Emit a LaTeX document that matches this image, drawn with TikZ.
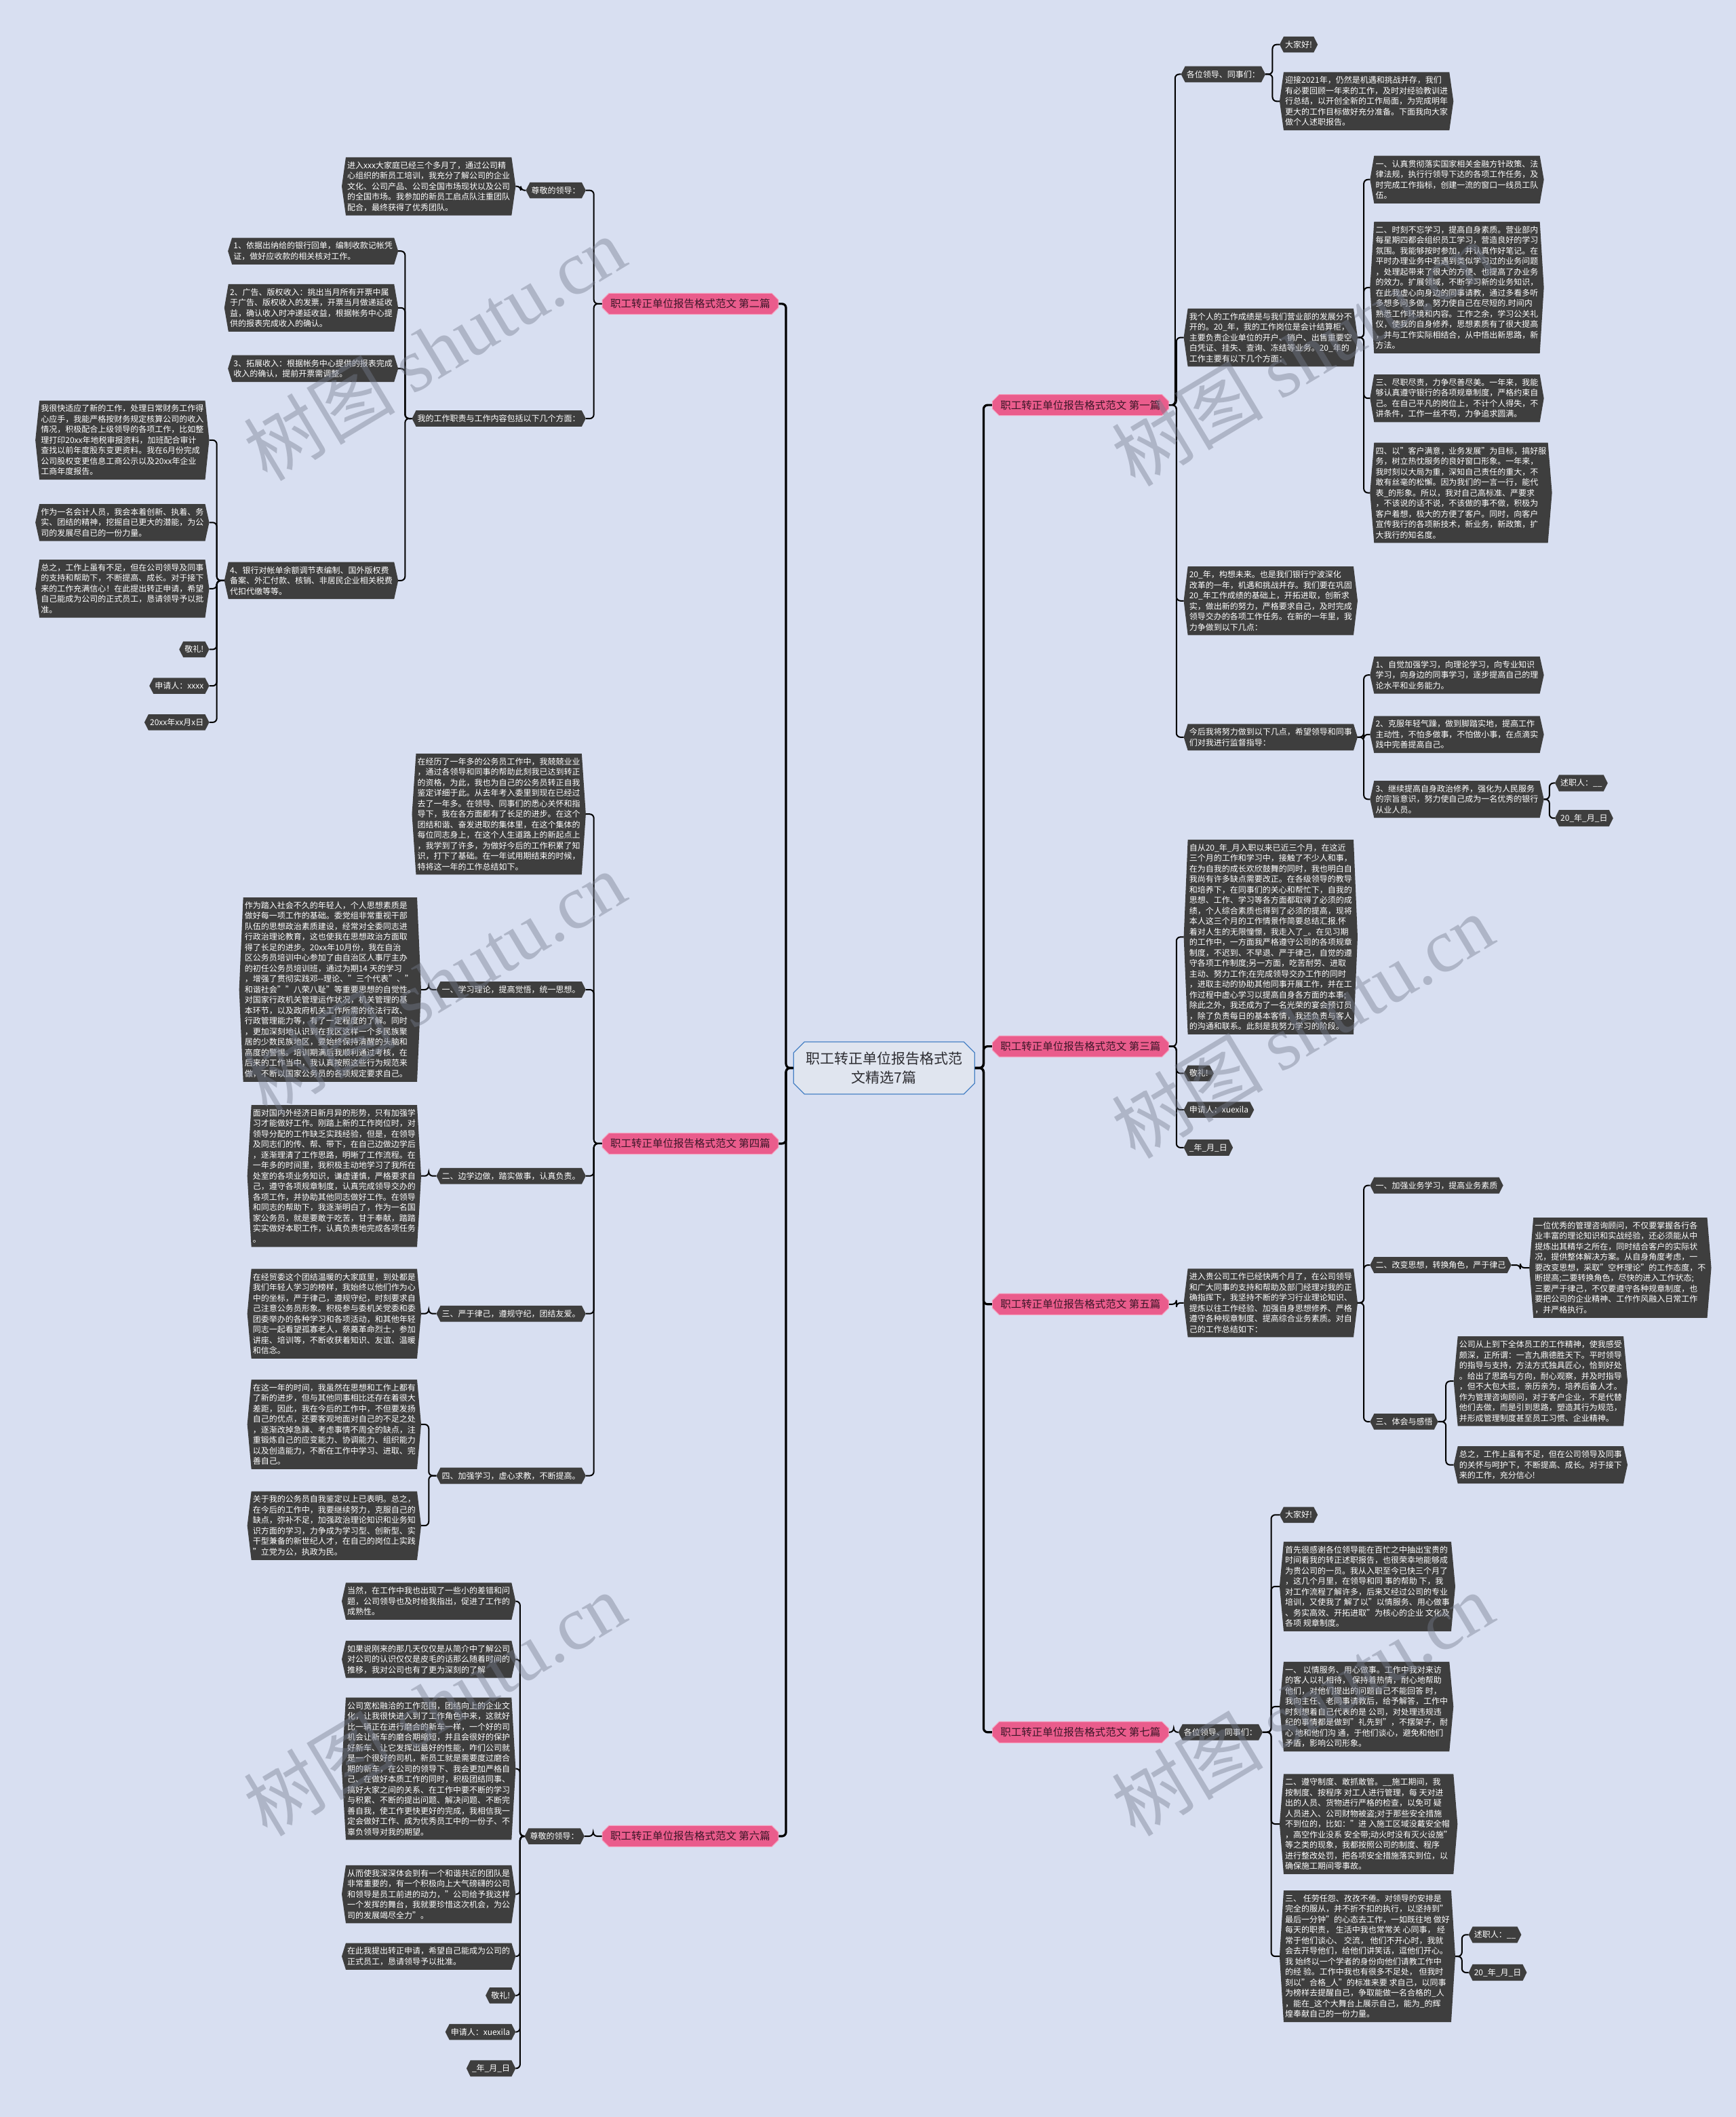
\documentclass[tikz,border=0pt]{standalone}
\usepackage{fontspec}
\setmainfont{Noto Sans CJK SC}
\newfontfamily\wmfont{Liberation Serif}
\usetikzlibrary{shapes.misc,calc}
\definecolor{bgc}{RGB}{216,223,241}
\definecolor{boxc}{RGB}{62,62,62}
\definecolor{pinkc}{RGB}{234,92,140}
\definecolor{pinkb}{RGB}{246,160,190}
\definecolor{pinkt}{RGB}{60,22,40}
\definecolor{centc}{RGB}{224,229,239}
\definecolor{centb}{RGB}{70,128,196}
\definecolor{wmc}{RGB}{118,124,142}
\pgfdeclarelayer{bgl}
\pgfdeclarelayer{hexl}
\pgfsetlayers{bgl,hexl,main}
\tikzset{
  tx/.style={inner xsep=8pt, inner ysep=6pt, text=white, align=left,
    font=\fontsize{12}{15.5}\selectfont},
  branch/.style={chamfered rectangle, chamfered rectangle xsep=5pt,
    chamfered rectangle ysep=5pt, fill=pinkc, draw=pinkb, line width=1pt,
    text=pinkt, font=\fontsize{15.5}{18}\selectfont, inner xsep=7pt,
    minimum height=28pt},
  titlebox/.style={chamfered rectangle, chamfered rectangle xsep=8pt,
    chamfered rectangle ysep=8pt, fill=centc, draw=centb, line width=1.2pt,
    text={rgb,255:red,45;green,45;blue,50}, align=center,
    font=\fontsize{21}{28}\selectfont, minimum width=267pt, minimum height=77pt},
  conn/.style={draw=black, line width=2pt, rounded corners=6pt},
  trunk/.style={conn, line width=3.2pt},
  wm/.style={rotate=31, text=wmc, opacity=0.42, font=\fontsize{112}{120}\selectfont}
}
\newcommand\lk[3][conn]{%
  \coordinate (tA) at (#2); \coordinate (tB) at (#3);
  \coordinate (tM) at ($(tA)!0.5!(tB)$);
  \draw[#1] (tA) -- (tM |- tA) -- (tM |- tB) -- (tB);}
\newcommand\hexall[1]{%
  \begin{pgfonlayer}{hexl}
  \foreach \n in {#1} {%
    \fill[boxc] ($(\n.north west)+(6pt,0)$) -- ($(\n.north east)+(-6pt,0)$) -- (\n.east)
      -- ($(\n.south east)+(-6pt,0)$) -- ($(\n.south west)+(6pt,0)$) -- (\n.west) -- cycle;}
  \end{pgfonlayer}}
\begin{document}
\begin{tikzpicture}[x=1.9907pt,y=-1.9907pt]
\begin{pgfonlayer}{bgl}
\fill[bgc] (0,0) rectangle (1286,1568);
\end{pgfonlayer}
\useasboundingbox (0,0) rectangle (1286,1568);

% center and branches
\node[titlebox] (C) at (655,791) {职工转正单位报告格式范\\文精选7篇};
\node[branch,anchor=west] (P1) at (735,300) {职工转正单位报告格式范文 第一篇};
\node[branch,anchor=west] (P3) at (735,775) {职工转正单位报告格式范文 第三篇};
\node[branch,anchor=west] (P5) at (735,966) {职工转正单位报告格式范文 第五篇};
\node[branch,anchor=west] (P7) at (735,1283) {职工转正单位报告格式范文 第七篇};
\node[branch,anchor=east] (P2) at (577,225) {职工转正单位报告格式范文 第二篇};
\node[branch,anchor=east] (P4) at (577,847) {职工转正单位报告格式范文 第四篇};
\node[branch,anchor=east] (P6) at (577,1360) {职工转正单位报告格式范文 第六篇};

% section 1
\node[tx,anchor=west] (A1) at (875,55) {各位领导、同事们：};
\node[tx,anchor=west] (A1a) at (948,33) {大家好!};
\node[tx,anchor=west] (A1b) at (948,75) {迎接2021年，仍然是机遇和挑战并存，我们\\有必要回顾一年来的工作，及时对经验教训进\\行总结，以开创全新的工作局面，为完成明年\\更大的工作目标做好充分准备。下面我向大家\\做个人述职报告。};
\node[tx,anchor=west] (A2) at (877,250) {我个人的工作成绩是与我们营业部的发展分不\\开的。20\_年，我的工作岗位是会计结算柜，\\主要负责企业单位的开户、销户、出售重要空\\白凭证、挂失、查询、冻结等业务。20\_年的\\工作主要有以下几个方面：};
\node[tx,anchor=west] (A2a) at (1015,133) {一、认真贯彻落实国家相关金融方针政策、法\\律法规，执行行领导下达的各项工作任务，及\\时完成工作指标，创建一流的窗口一线员工队\\伍。};
\node[tx,anchor=west] (A2b) at (1015,213) {二、时刻不忘学习，提高自身素质。营业部内\\每星期四都会组织员工学习，营造良好的学习\\氛围。我能够按时参加，并认真作好笔记。在\\平时办理业务中若遇到类似学习过的业务问题\\，处理起带来了很大的方便、也提高了办业务\\的效力。扩展领域，不断学习新的业务知识，\\在此我虚心向身边的同事请教，通过多看多听\\多想多问多做，努力使自己在尽短的.时间内\\熟悉工作环境和内容。工作之余，学习公关礼\\仪，使我的自身修养，思想素质有了很大提高\\，并与工作实际相结合，从中悟出新思路，新\\方法。};
\node[tx,anchor=west] (A2c) at (1015,295) {三、尽职尽责，力争尽善尽美。一年来，我能\\够认真遵守银行的各项规章制度，严格约束自\\己。在自己平凡的岗位上，不计个人得失，不\\讲条件，工作一丝不苟，力争追求圆满。};
\node[tx,anchor=west] (A2d) at (1015,365) {四、以"客户满意，业务发展"为目标，搞好服\\务，树立热忱服务的良好窗口形象。一年来，\\我时刻以大局为重，深知自己责任的重大，不\\敢有丝毫的松懈。因为我们的一言一行，能代\\表\_的形象。所以，我对自己高标准、严要求\\，不该说的话不说，不该做的事不做，积极为\\客户着想，极大的方便了客户。同时，向客户\\宣传我行的各项新技术，新业务，新政策，扩\\大我行的知名度。};
\node[tx,anchor=west] (A3) at (877,445) {20\_年，构想未来。也是我们银行宁波深化\\改革的一年，机遇和挑战并存。我们要在巩固\\20\_年工作成绩的基础上，开拓进取，创新求\\实，做出新的努力，严格要求自己，及时完成\\领导交办的各项工作任务。在新的一年里，我\\力争做到以下几点：};
\node[tx,anchor=west] (A4) at (877,546) {今后我将努力做到以下几点，希望领导和同事\\们对我进行监督指导：};
\node[tx,anchor=west] (A4a) at (1015,500) {1、自觉加强学习，向理论学习，向专业知识\\学习，向身边的同事学习，逐步提高自己的理\\论水平和业务能力。};
\node[tx,anchor=west] (A4b) at (1015,544) {2、克服年轻气躁，做到脚踏实地，提高工作\\主动性，不怕多做事，不怕做小事，在点滴实\\践中完善提高自己。};
\node[tx,anchor=west] (A4c) at (1015,592) {3、继续提高自身政治修养，强化为人民服务\\的宗旨意识，努力使自己成为一名优秀的银行\\从业人员。};
\node[tx,anchor=west] (A4c1) at (1152,580) {述职人：\_\_};
\node[tx,anchor=west] (A4c2) at (1152,606) {20\_年\_月\_日};

% section 3
\node[tx,anchor=west] (B1) at (877,694) {自从20\_年\_月入职以来已近三个月，在这近\\三个月的工作和学习中，接触了不少人和事，\\在为自我的成长欢欣鼓舞的同时，我也明白自\\我尚有许多缺点需要改正。在各级领导的教导\\和培养下，在同事们的关心和帮忙下，自我的\\思想、工作、学习等各方面都取得了必须的成\\绩，个人综合素质也得到了必须的提高，现将\\本人这三个月的工作情景作简要总结汇报.怀\\着对人生的无限憧憬，我走入了\_。在见习期\\的工作中，一方面我严格遵守公司的各项规章\\制度，不迟到、不早退、严于律己，自觉的遵\\守各项工作制度;另一方面，吃苦耐劳、进取\\主动、努力工作;在完成领导交办工作的同时\\，进取主动的协助其他同事开展工作，并在工\\作过程中虚心学习以提高自身各方面的本事;\\除此之外，我还成为了一名光荣的宴会预订员\\，除了负责每日的基本客情，我还负责与客人\\的沟通和联系。此刻是我努力学习的阶段。};
\node[tx,anchor=west] (B2) at (877,795) {敬礼!};
\node[tx,anchor=west] (B3) at (877,822) {申请人：xuexila};
\node[tx,anchor=west] (B4) at (877,850) {\_年\_月\_日};

% section 5
\node[tx,anchor=west] (C1) at (877,965) {进入贵公司工作已经快两个月了，在公司领导\\和广大同事的支持和帮助及部门经理对我的正\\确指挥下，我坚持不断的学习行业理论知识、\\提炼以往工作经验、加强自身思想修养、严格\\遵守各种规章制度、提高综合业务素质。对自\\己的工作总结如下：};
\node[tx,anchor=west] (C1a) at (1015,878) {一、加强业务学习，提高业务素质};
\node[tx,anchor=west] (C1b) at (1015,937) {二、改变思想，转换角色，严于律己};
\node[tx,anchor=west] (C1b1) at (1133,939) {一位优秀的管理咨询顾问，不仅要掌握各行各\\业丰富的理论知识和实战经验，还必须能从中\\提炼出其精华之所在，同时结合客户的实际状\\况，提供整体解决方案。从自身角度考虑，一\\要改变思想，采取"空杯理论"的工作态度，不\\断提高;二要转换角色，尽快的进入工作状态;\\三要严于律己，不仅要遵守各种规章制度，也\\要把公司的企业精神、工作作风融入日常工作\\，并严格执行。};
\node[tx,anchor=west] (C1c) at (1015,1053) {三、体会与感悟};
\node[tx,anchor=west] (C1c1) at (1077,1023) {公司从上到下全体员工的工作精神，使我感受\\颇深，正所谓：一言九鼎德胜天下。平时领导\\的指导与支持，方法方式独具匠心，恰到好处\\。给出了思路与方向，耐心观察，并及时指导\\，但不大包大揽，亲历亲为，培养后备人才。\\作为管理咨询顾问，对于客户企业，不是代替\\他们去做，而是引到思路，塑造其行为规范，\\并形成管理制度甚至员工习惯、企业精神。};
\node[tx,anchor=west] (C1c2) at (1077,1085) {总之，工作上虽有不足，但在公司领导及同事\\的关怀与呵护下，不断提高、成长。对于接下\\来的工作，充分信心!};

% section 7
\node[tx,anchor=west] (D1) at (873,1283) {各位领导、同事们：};
\node[tx,anchor=west] (D1a) at (948,1122) {大家好!};
\node[tx,anchor=west] (D1b) at (948,1175) {首先很感谢各位领导能在百忙之中抽出宝贵的\\时间看我的转正述职报告，也很荣幸地能够成\\为贵公司的一员。我从入职至今已快三个月了\\，这几个月里，在领导和同 事的帮助 下，我\\对工作流程了解许多，后来又经过公司的专业\\培训，又使我了 解了以"以情服务、用心做事\\、务实高效、开拓进取"为核心的企业 文化及\\各项 规章制度。};
\node[tx,anchor=west] (D1c) at (948,1264) {一、 以情服务、用心做事。工作中我对来访\\的客人以礼相待， 保持着热情，耐心地帮助\\他们，对他们提出的问题自己不能回答 时，\\我向主任、老同事请教后，给予解答，工作中\\时刻想着自己代表的是 公司，对处理违规违\\纪的事情都是做到"礼先到"，不摆架子，耐\\心 地和他们沟 通，于他们谈心，避免和他们\\矛盾，影响公司形象。};
\node[tx,anchor=west] (D1d) at (948,1351) {二、遵守制度、敢抓敢管。\_\_施工期间，我\\按制度、按程序 对工人进行管理，每 天对进\\出的人员、货物进行严格的检查，以免可 疑\\人员进入、公司财物被盗;对于那些安全措施\\不到位的，比如："进 入施工区域没戴安全帽\\，高空作业没系 安全带;动火时没有灭火设施"\\ 等之类的现象，我都按照公司的制度、程序\\进行整改处罚，把各项安全措施落实到位，以\\确保施工期间零事故。};
\node[tx,anchor=west] (D1e) at (948,1449) {三、 任劳任怨、孜孜不倦。对领导的安排是\\完全的服从，并不折不扣的执行，以坚持到"\\最后一分钟"的心态去工作，一如既往地 做好\\每天的职责， 生活中我也常常关 心同事， 经\\常于他们谈心、 交流， 他们不开心时，我就\\会去开导他们，给他们讲笑话，逗他们开心。\\我 始终以一个学者的身份向他们请教工作中\\的经 验。工作中我也有很多不足处， 但我时\\刻以"合格\_人"的标准来要 求自己，以同事\\为榜样去提醒自己，争取能做一名合格的\_人\\，能在\_这个大舞台上展示自己，能为\_的辉\\煌奉献自己的一份力量。};
\node[tx,anchor=west] (D1e1) at (1088,1433) {述职人：\_\_};
\node[tx,anchor=west] (D1e2) at (1088,1461) {20\_年\_月\_日};

% section 2
\node[tx,anchor=east] (E1) at (434,141) {尊敬的领导：};
\node[tx,anchor=east] (E1a) at (382,138) {进入xxx大家庭已经三个多月了，通过公司精\\心组织的新员工培训，我充分了解公司的企业\\文化、公司产品、公司全国市场现状以及公司\\的全国市场。我参加的新员工启点队注重团队\\配合，最终获得了优秀团队。};
\node[tx,anchor=east] (E2) at (434,310) {我的工作职责与工作内容包括以下几个方面：};
\node[tx,anchor=east] (E2a) at (295,186) {1、依据出纳给的银行回单，编制收款记帐凭\\证，做好应收款的相关核对工作。};
\node[tx,anchor=east] (E2b) at (295,228) {2、广告、版权收入：挑出当月所有开票中属\\于广告、版权收入的发票，开票当月做递延收\\益，确认收入时冲递延收益，根据帐务中心提\\供的报表完成收入的确认。};
\node[tx,anchor=east] (E2c) at (295,273) {3、拓展收入：根据帐务中心提供的报表完成\\收入的确认，提前开票需调整。};
\node[tx,anchor=east] (E2d) at (295,430) {4、银行对帐单余额调节表编制、国外版权费\\备案、外汇付款、核销、非居民企业相关税费\\代扣代缴等等。};
\node[tx,anchor=east] (E2d1) at (155,326) {我很快适应了新的工作，处理日常财务工作得\\心应手，我能严格按财务规定核算公司的收入\\情况，积极配合上级领导的各项工作，比如整\\理打印20xx年地税审报资料，加班配合审计\\查找以前年度股东变更资料。我在6月份完成\\公司股权变更信息工商公示以及20xx年企业\\工商年度报告。};
\node[tx,anchor=east] (E2d2) at (155,387) {作为一名会计人员，我会本着创新、执着、务\\实、团结的精神，挖掘自已更大的潜能，为公\\司的发展尽自已的一份力量。};
\node[tx,anchor=east] (E2d3) at (155,436) {总之，工作上虽有不足，但在公司领导及同事\\的支持和帮助下，不断提高、成长。对于接下\\来的工作充满信心！在此提出转正申请，希望\\自己能成为公司的正式员工，恳请领导予以批\\准。};
\node[tx,anchor=east] (E2d4) at (155,481) {敬礼!};
\node[tx,anchor=east] (E2d5) at (155,508) {申请人：xxxx};
\node[tx,anchor=east] (E2d6) at (155,535) {20xx年xx月x日};

% section 4
\node[tx,anchor=east] (F0) at (434,603) {在经历了一年多的公务员工作中，我兢兢业业\\，通过各领导和同事的帮助此刻我已达到转正\\的资格，为此，我也为自己的公务员转正自我\\鉴定详细于此。从去年考入委里到现在已经过\\去了一年多。在领导、同事们的悉心关怀和指\\导下，我在各方面都有了长足的进步。在这个\\团结和谐、奋发进取的集体里，在这个集体的\\每位同志身上，在这个人生道路上的新起点上\\，我学到了许多，为做好今后的工作积累了知\\识，打下了基础。在一年试用期结束的时候，\\特将这一年的工作总结如下。};
\node[tx,anchor=east] (F1) at (434,733) {一、学习理论，提高觉悟，统一思想。};
\node[tx,anchor=east] (F1a) at (312,733) {作为踏入社会不久的年轻人，个人思想素质是\\做好每一项工作的基础。委党组非常重视干部\\队伍的思想政治素质建设，经常对全委同志进\\行政治理论教育，这也使我在思想政治方面取\\得了长足的进步。20xx年10月份，我在自治\\区公务员培训中心参加了由自治区人事厅主办\\的初任公务员培训班，通过为期14 天的学习\\，增强了贯彻实践邓-{}-理论、"三个代表"、"\\和谐社会""八荣八耻"等重要思想的自觉性。\\对国家行政机关管理运作状况，机关管理的基\\本环节，以及政府机关工作所需的依法行政、\\行政管理能力等，有了一定程度的了解。同时\\，更加深刻地认识到在我区这样一个多民族聚\\居的少数民族地区，要始终保持清醒的头脑和\\高度的警惕。培训期满后我顺利通过考核，在\\后来的工作当中，我认真按照这些行为规范来\\做，不断以国家公务员的各项规定要求自己。};
\node[tx,anchor=east] (F2) at (434,871) {二、边学边做，踏实做事，认真负责。};
\node[tx,anchor=east] (F2a) at (312,871) {面对国内外经济日新月异的形势，只有加强学\\习才能做好工作。刚踏上新的工作岗位时，对\\领导分配的工作缺乏实践经验，但是，在领导\\及同志们的传、帮、带下，在自己边做边学后\\，逐渐理清了工作思路，明晰了工作流程。在\\一年多的时间里，我积极主动地学习了我所在\\处室的各项业务知识，谦虚谨慎，严格要求自\\己，遵守各项规章制度，认真完成领导交办的\\各项工作，并协助其他同志做好工作。在领导\\和同志的帮助下，我逐渐明白了，作为一名国\\家公务员，就是要敢于吃苦，甘于奉献，踏踏\\实实做好本职工作，认真负责地完成各项任务\\。};
\node[tx,anchor=east] (F3) at (434,973) {三、严于律己，遵规守纪，团结友爱。};
\node[tx,anchor=east] (F3a) at (312,973) {在经贸委这个团结温暖的大家庭里，到处都是\\我们年轻人学习的榜样，我始终以他们作为心\\中的坐标，严于律己，遵规守纪，时刻要求自\\己注意公务员形象。积极参与委机关党委和委\\团委举办的各种学习和各项活动，和其他年轻\\同志一起看望孤寡老人，祭奠革命烈士，参加\\讲座、培训等，不断收获着知识、友谊、温暖\\和信念。};
\node[tx,anchor=east] (F4) at (434,1093) {四、加强学习，虚心求教，不断提高。};
\node[tx,anchor=east] (F4a) at (312,1055) {在这一年的时间，我虽然在思想和工作上都有\\了新的进步，但与其他同事相比还存在着很大\\差距，因此，我在今后的工作中，不但要发扬\\自己的优点，还要客观地面对自己的不足之处\\，逐渐改掉急躁、考虑事情不周全的缺点，注\\重锻炼自己的应变能力、协调能力、组织能力\\以及创造能力，不断在工作中学习、进取、完\\善自己。};
\node[tx,anchor=east] (F4b) at (312,1130) {关于我的公务员自我鉴定以上已表明。总之，\\在今后的工作中，我要继续努力，克服自己的\\缺点，弥补不足，加强政治理论知识和业务知\\识方面的学习，力争成为学习型、创新型、实\\干型兼备的新世纪人才，在自己的岗位上实践\\"立党为公，执政为民。};

% section 6
\node[tx,anchor=east] (G1) at (433,1360) {尊敬的领导：};
\node[tx,anchor=east] (G1a) at (382,1186) {当然，在工作中我也出现了一些小的差错和问\\题，公司领导也及时给我指出，促进了工作的\\成熟性。};
\node[tx,anchor=east] (G1b) at (382,1229) {如果说刚来的那几天仅仅是从简介中了解公司\\对公司的认识仅仅是皮毛的话那么随着时间的\\推移，我对公司也有了更为深刻的了解};
\node[tx,anchor=east] (G1c) at (382,1310) {公司宽松融洽的工作范围，团结向上的企业文\\化，让我很快进入到了工作角色中来，这就好\\比一辆正在进行磨合的新车一样，一个好的司\\机会让新车的磨合期缩短，并且会很好的保护\\好新车、让它发挥出最好的性能，咋们公司就\\是一个很好的司机，新员工就是需要度过磨合\\期的新车，在公司的领导下、我会更加严格自\\己、在做好本质工作的同时，积极团结同事、\\搞好大家之间的关系、在工作中要不断的学习\\与积累、不断的提出问题、解决问题、不断完\\善自我，使工作更快更好的完成，我相信我一\\定会做好工作、成为优秀员工中的一份子、不\\辜负领导对我的期望。};
\node[tx,anchor=east] (G1d) at (382,1403) {从而使我深深体会到有一个和谐共近的团队是\\非常重要的，有一个积极向上大气磅礴的公司\\和领导是员工前进的动力，"公司给予我这样\\一个发挥的舞台，我就要珍惜这次机会，为公\\司的发展竭尽全力"。};
\node[tx,anchor=east] (G1e) at (382,1449) {在此我提出转正申请，希望自己能成为公司的\\正式员工，恳请领导予以批准。};
\node[tx,anchor=east] (G1f) at (382,1478) {敬礼!};
\node[tx,anchor=east] (G1g) at (382,1505) {申请人：xuexila};
\node[tx,anchor=east] (G1h) at (382,1532) {\_年\_月\_日};

\hexall{A1,A1a,A1b,A2,A2a,A2b,A2c,A2d,A3,A4,A4a,A4b,A4c,A4c1,A4c2,
  B1,B2,B3,B4,C1,C1a,C1b,C1b1,C1c,C1c1,C1c2,
  D1,D1a,D1b,D1c,D1d,D1e,D1e1,D1e2,
  E1,E1a,E2,E2a,E2b,E2c,E2d,E2d1,E2d2,E2d3,E2d4,E2d5,E2d6,
  F0,F1,F1a,F2,F2a,F3,F3a,F4,F4a,F4b,
  G1,G1a,G1b,G1c,G1d,G1e,G1f,G1g,G1h}

% trunk connectors
\foreach \p in {P1,P3,P5,P7} {\lk[trunk]{C.east}{\p.west}}
\foreach \p in {P2,P4,P6} {\lk[trunk]{C.west}{\p.east}}

% right side connectors
\foreach \c in {A1,A2,A3,A4} {\lk{P1.east}{\c.west}}
\foreach \c in {A1a,A1b} {\lk{A1.east}{\c.west}}
\foreach \c in {A2a,A2b,A2c,A2d} {\lk{A2.east}{\c.west}}
\foreach \c in {A4a,A4b,A4c} {\lk{A4.east}{\c.west}}
\foreach \c in {A4c1,A4c2} {\lk{A4c.east}{\c.west}}
\foreach \c in {B1,B2,B3,B4} {\lk{P3.east}{\c.west}}
\lk{P5.east}{C1.west}
\foreach \c in {C1a,C1b,C1c} {\lk{C1.east}{\c.west}}
\lk{C1b.east}{C1b1.west}
\foreach \c in {C1c1,C1c2} {\lk{C1c.east}{\c.west}}
\lk{P7.east}{D1.west}
\foreach \c in {D1a,D1b,D1c,D1d,D1e} {\lk{D1.east}{\c.west}}
\foreach \c in {D1e1,D1e2} {\lk{D1e.east}{\c.west}}

% left side connectors
\foreach \c in {E1,E2} {\lk{P2.west}{\c.east}}
\lk{E1.west}{E1a.east}
\foreach \c in {E2a,E2b,E2c,E2d} {\lk{E2.west}{\c.east}}
\foreach \c in {E2d1,E2d2,E2d3,E2d4,E2d5,E2d6} {\lk{E2d.west}{\c.east}}
\foreach \c in {F0,F1,F2,F3,F4} {\lk{P4.west}{\c.east}}
\lk{F1.west}{F1a.east}
\lk{F2.west}{F2a.east}
\lk{F3.west}{F3a.east}
\foreach \c in {F4a,F4b} {\lk{F4.west}{\c.east}}
\lk{P6.west}{G1.east}
\foreach \c in {G1a,G1b,G1c,G1d,G1e,G1f,G1g,G1h} {\lk{G1.west}{\c.east}}

% watermark
\node[wm] (wm1) at (322,258) {树图 {\wmfont shutu.cn}};
\node[wm] (wm2) at (322,728) {树图 {\wmfont shutu.cn}};
\node[wm] (wm3) at (322,1262) {树图 {\wmfont shutu.cn}};
\node[wm] (wm4) at (965,262) {树图 {\wmfont shutu.cn}};
\node[wm] (wm5) at (965,760) {树图 {\wmfont shutu.cn}};
\node[wm] (wm6) at (965,1262) {树图 {\wmfont shutu.cn}};
\end{tikzpicture}
\end{document}
